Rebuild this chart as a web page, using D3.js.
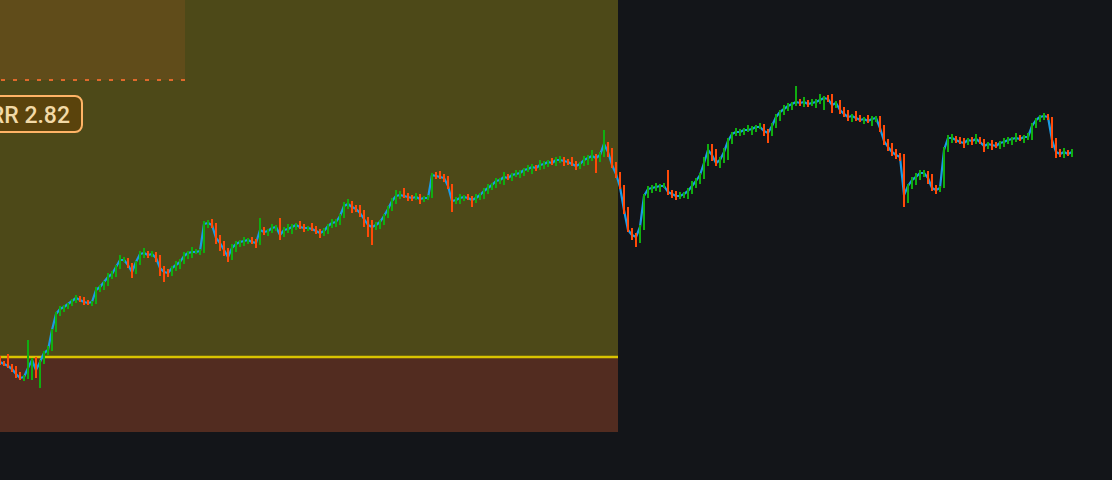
<!DOCTYPE html>
<html>
<head>
<meta charset="utf-8">
<script src="https://cdn.jsdelivr.net/npm/d3@7/dist/d3.min.js"></script>
<style>
  html, body { margin: 0; padding: 0; background: #131519; overflow: hidden; }
  svg { display: block; }
</style>
</head>
<body>
<svg id="chart" width="1112" height="480"></svg>
<script>
// ---- data (price units, one candle per bar index) ----
const closes = [
  118,116,114,111,106,102,103,112,120,110, 118,127,130,150,166,171,173,176,179,182,
  180,178,177,178,190,193,198,203,206,213, 220,220,215,208,218,226,227,225,226,222,
  212,208,207,212,215,218,224,227,228,228, 229,256,257,255,242,237,230,223,232,236,
  238,239,240,238,237,250,248,249,252,253, 245,250,251,253,255,253,252,252,251,249,
  247,249,254,257,258,264,274,276,273,271, 267,261,255,253,255,258,264,271,279,284,
  285,284,283,282,283,281,282,282,305,304, 303,302,294,279,280,282,283,282,280,282,
  285,289,292,295,299,300,303,302,305,306, 307,310,311,313,312,315,316,318,317,320,
  320,319,318,316,314,316,320,322,324,322, 325,336,328,315,306,293,270,250,245,243,
  253,284,291,292,293,294,294,288,286,284, 284,286,289,294,299,305,317,330,325,317,
  320,328,339,346,348,348,350,350,351,353, 353,349,347,354,363,368,371,374,376,378,
  377,378,376,377,378,380,382,381,375,377, 370,366,363,364,362,360,361,359,361,362,
  352,339,333,328,325,323,285,294,300,303, 307,307,302,292,290,292,330,342,342,340,
  338,337,340,339,341,338,334,336,335,334, 337,338,340,341,342,341,343,343,354,360,
  363,364,363,340,328,326,328,326,328
];
const upperWicks = [
  2,1,10,2,3,2,2,28,2,3, 2,2,4,1,2,3,2,1,2,3,
  2,3,2,1,3,2,1,4,3,2, 5,3,2,2,1,3,5,2,3,2,
  3,2,3,2,4,3,4,2,5,3, 2,3,3,4,2,3,2,2,4,3,
  2,4,2,3,3,12,3,2,4,2, 9,3,5,3,2,4,3,2,5,3,
  2,3,2,4,3,2,4,5,3,2, 4,3,2,5,3,2,2,3,3,6,
  4,7,3,2,4,3,2,3,2,3, 5,3,2,2,3,4,2,3,2,4,
  2,3,4,2,3,2,5,3,2,4, 3,2,4,3,2,5,3,2,4,3,
  4,3,2,5,3,2,4,3,6,2, 3,14,2,4,3,2,2,3,2,2,
  2,2,3,3,4,2,3,16,2,3, 4,2,3,5,3,2,6,6,6,6,
  3,4,3,2,4,3,2,5,3,2, 4,3,2,3,3,2,4,3,2,16,
  3,5,2,4,3,6,2,3,5,2, 3,3,4,2,5,3,2,4,3,2,
  2,3,2,4,3,2,3,2,3,4, 3,3,2,4,3,2,3,3,4,2,
  3,4,2,3,5,2,3,2,4,3, 2,4,3,2,5,3,2,4,3,2,
  2,3,2,0,2,3,4,2,3
];
const lowerWicks = [
  3,2,2,3,4,2,3,2,12,8, 18,2,2,1,2,2,3,2,2,2,
  2,3,2,3,2,2,3,4,2,3, 2,2,3,6,2,3,4,3,2,4,
  8,10,4,3,3,4,2,3,5,2, 3,2,4,3,6,8,6,5,3,4,
  3,4,3,2,5,2,3,4,2,3, 5,2,3,5,3,2,4,3,2,3,
  5,3,3,2,4,3,2,3,6,3, 4,8,12,18,3,4,3,2,2,3,
  3,2,4,3,2,5,3,2,0,3, 2,4,3,11,3,4,3,2,7,3,
  2,4,3,2,3,3,5,2,3,2, 4,3,2,5,3,2,4,3,2,3,
  3,5,3,2,4,3,2,5,3,15, 4,2,5,3,4,2,4,2,5,10,
  6,3,2,4,3,5,2,3,4,4, 3,2,5,3,2,3,4,3,6,3,
  5,3,8,3,2,4,3,2,5,3, 2,5,10,3,2,4,3,2,4,2,
  3,4,3,2,5,2,10,3,8,3, 4,3,4,5,3,2,4,2,5,3,
  4,4,4,4,4,4,12,8,3,5, 3,4,6,3,4,2,0,2,5,3,
  2,5,2,4,3,2,6,3,5,2, 3,4,2,5,3,2,4,3,3,2,
  2,3,3,8,6,3,4,2,3
];
const firstOpen = 122;

// long position tool
const entryPrice = 123;
const stopPrice = 48;
const targetPrice = 500;
const positionEnd = 154.5;     // bar index where the position box ends
const rrLabel = "RR 2.82";

// rectangle drawing (top left)
const boxEnd = 46.25;          // bar index
const boxLow = 400;
const boxHigh = 500;

// ---- scales ----
const W = 1112, H = 480;
const x = d3.scaleLinear().domain([0, 278]).range([0, 1112]);
const y = d3.scaleLinear().domain([0, 480]).range([480, 0]);

const candles = closes.map((c, i) => {
  const o = i === 0 ? firstOpen : closes[i - 1];
  return {
    i, o, c,
    h: Math.max(o, c) + upperWicks[i],
    l: Math.min(o, c) - lowerWicks[i]
  };
});

const svg = d3.select("#chart");
svg.append("rect").attr("width", W).attr("height", H).attr("fill", "#131519");

// profit zone
svg.append("rect")
  .attr("x", x(-20)).attr("width", x(positionEnd) - x(-20))
  .attr("y", y(targetPrice)).attr("height", y(entryPrice) - y(targetPrice))
  .attr("fill", "#4d4918");
// loss zone
svg.append("rect")
  .attr("x", x(-20)).attr("width", x(positionEnd) - x(-20))
  .attr("y", y(entryPrice)).attr("height", y(stopPrice) - y(entryPrice))
  .attr("fill", "#522c20");

// top-left rectangle
svg.append("rect")
  .attr("x", x(-20)).attr("width", x(boxEnd) - x(-20))
  .attr("y", y(boxHigh)).attr("height", y(boxLow) - y(boxHigh))
  .attr("fill", "#604c1a");
svg.append("line")
  .attr("x1", x(0)).attr("x2", x(boxEnd))
  .attr("y1", y(boxLow)).attr("y2", y(boxLow))
  .attr("stroke", "#e0692c").attr("stroke-width", 2)
  .attr("stroke-dasharray", "4 8").attr("stroke-dashoffset", -1);

// entry line
svg.append("line")
  .attr("x1", x(-20)).attr("x2", x(positionEnd))
  .attr("y1", y(entryPrice)).attr("y2", y(entryPrice))
  .attr("stroke", "#d8c400").attr("stroke-width", 2.5);

// close line
const line = d3.line().x(d => x(d.i)).y(d => y(d.c));
svg.append("path")
  .datum(candles)
  .attr("d", line)
  .attr("fill", "none")
  .attr("stroke", "#1c9be4")
  .attr("stroke-width", 2.2)
  .attr("stroke-linejoin", "round");

// candles
svg.append("g").selectAll("rect")
  .data(candles)
  .join("rect")
  .attr("x", d => x(d.i) - 1)
  .attr("width", 2)
  .attr("y", d => y(d.h))
  .attr("height", d => Math.max(1, y(d.l) - y(d.h)))
  .attr("fill", d => d.c >= d.o ? "#10ad10" : "#ff4a08");

// RR label
const lg = svg.append("g");
lg.append("rect")
  .attr("x", -40).attr("y", 96).attr("width", 122).attr("height", 36)
  .attr("rx", 7).attr("ry", 7)
  .attr("fill", "#5a430c").attr("stroke", "#ffb466").attr("stroke-width", 2);
lg.append("text")
  .attr("x", 70).attr("y", 123)
  .attr("text-anchor", "end")
  .attr("font-family", "Roboto, 'Noto Sans', sans-serif")
  .attr("font-size", 23)
  .attr("font-weight", 500)
  .attr("fill", "#f2d9a6")
  .text(rrLabel);
</script>
</body>
</html>
